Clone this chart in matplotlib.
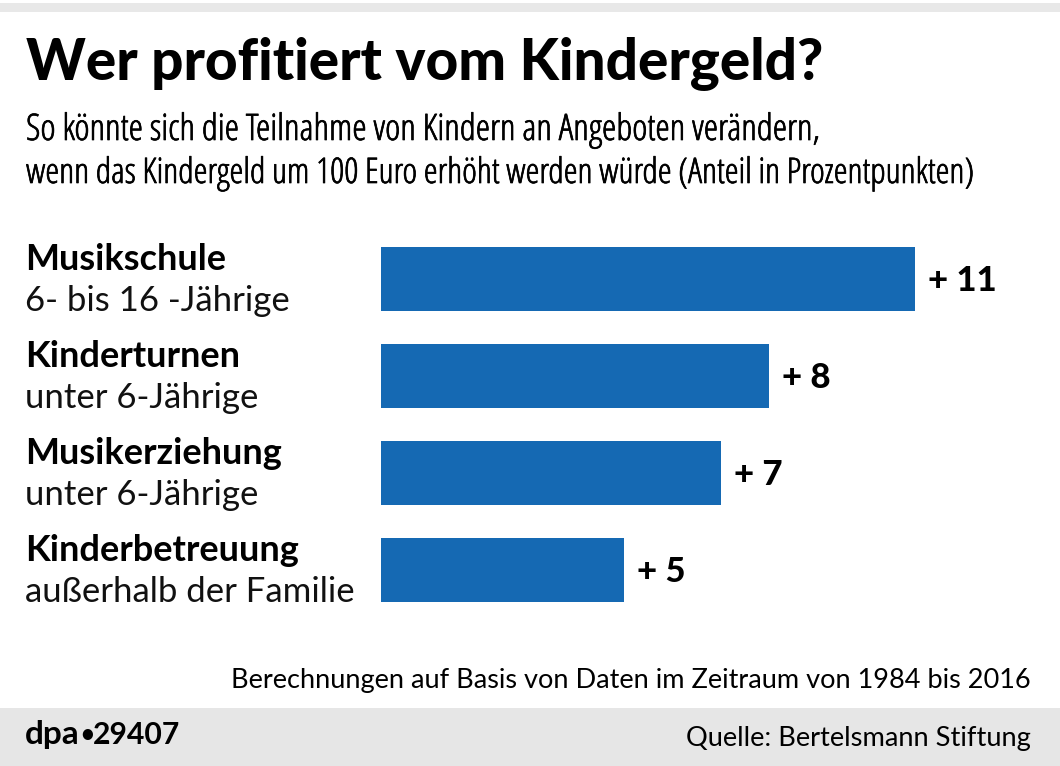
import matplotlib
matplotlib.use("Agg")
import matplotlib.pyplot as plt
import matplotlib.patheffects as pe
from matplotlib.patches import Rectangle

plt.rcParams['font.family'] = ['Lato', 'DejaVu Sans']

W, H = 1060, 766

# chart data
titles = ["Musikschule", "Kinderturnen", "Musikerziehung", "Kinderbetreuung"]
groups = ["6- bis 16 -Jährige", "unter 6-Jährige", "unter 6-Jährige", "außerhalb der Familie"]
values = [11, 8, 7, 5]
value_labels = ["+ 11", "+ 8", "+ 7", "+ 5"]

fig = plt.figure(figsize=(W / 100, H / 100), dpi=100, facecolor='white')

# full figure layer in pixel coords, for bands and text
bg = fig.add_axes([0, 0, 1, 1])
bg.set_xlim(0, W)
bg.set_ylim(H, 0)
bg.axis('off')

bg.add_patch(Rectangle((0, 3), W, 9, color='#e8e8e8', lw=0))
bg.add_patch(Rectangle((0, 708), W, 58, color='#e6e6e6', lw=0))

bg.text(26, 80, "Wer profitiert vom Kindergeld?", fontsize=40.8, fontweight='black', va='baseline', color='black')

# the condensed face only comes in light, so thicken it a little
thicker = [pe.withStroke(linewidth=0.5, foreground='black')]
bg.text(26, 140, "So könnte sich die Teilnahme von Kindern an Angeboten verändern,", fontsize=26.3, family='Open Sans', stretch='condensed', va='baseline', color='black', path_effects=thicker)
bg.text(26, 183, "wenn das Kindergeld um 100 Euro erhöht werden würde (Anteil in Prozentpunkten)", fontsize=25.4, family='Open Sans', stretch='condensed', va='baseline', color='black', path_effects=thicker)

# bars
ax = fig.add_axes([381 / W, 1 - 612 / H, (1060 - 381) / W, (612 - 236) / H])
ax.set_xlim(0, 11 * (1060 - 381) / (915 - 381))
ax.set_ylim(333 / 97, -43 / 97)
ax.axis('off')
ax.barh(range(len(values)), values, height=64 / 97, color='#1569b3')

for i, v in enumerate(values):
    ax.annotate(value_labels[i], (v, i), xytext=(13, -2), textcoords='offset pixels',
                fontsize=25, fontweight='black', va='center', color='black')

ys = [279, 376, 473, 570]
for y, t, g in zip(ys, titles, groups):
    bg.text(25, y - 9, t, fontsize=26, fontweight='bold', va='baseline', color='black')
    bg.text(25, y + 32, g, fontsize=25, va='baseline', color='#111111')

bg.text(1031, 688, "Berechnungen auf Basis von Daten im Zeitraum von 1984 bis 2016", fontsize=19.5, ha='right', va='baseline', color='black')
bg.text(25, 744, "dpa", fontsize=24, fontweight='bold', va='baseline', color='black')
bg.text(80, 742, "•", fontsize=17, fontweight='bold', va='baseline', color='black')
bg.text(93, 744, "29407", fontsize=21.7, fontweight='bold', va='baseline', color='black')
bg.text(1031, 746, "Quelle: Bertelsmann Stiftung", fontsize=19.6, ha='right', va='baseline', color='black')

fig.savefig("out.png", dpi=100)
